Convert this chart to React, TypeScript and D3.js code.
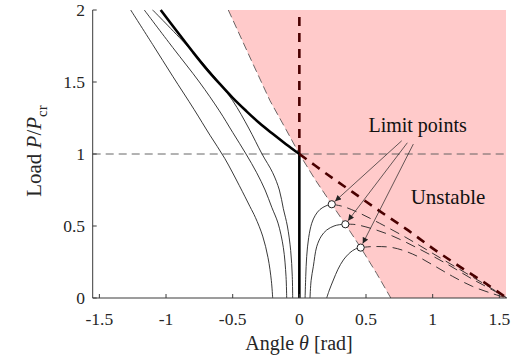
import { useMemo } from "react";
import * as d3 from "d3";

// axis ticks
const xTicks = [-1.5, -1, -0.5, 0, 0.5, 1, 1.5];
const yTicks = [0, 0.5, 1, 1.5, 2];

// perfect system: stable post-buckling branch (theta, P/Pcr)
const perfectStable: [number, number][] = [
  [0, 1], [-0.1, 1.068], [-0.2, 1.14], [-0.3, 1.215], [-0.4, 1.3], [-0.5, 1.39],
  [-0.6, 1.49], [-0.7, 1.595], [-0.8, 1.71], [-0.9, 1.83], [-1.04, 2.0],
];
// perfect system: unstable branch
const perfectUnstable: [number, number][] = [
  [0, 1], [0.2, 0.865], [0.4, 0.735], [0.6, 0.605], [0.8, 0.48], [1.0, 0.345],
  [1.2, 0.22], [1.4, 0.1], [1.556, 0],
];
// stability boundary (locus of limit points)
const boundary: [number, number][] = [
  [-0.533, 2], [-0.36, 1.65], [-0.22, 1.37], [-0.1, 1.17], [0, 1], [0.12, 0.82],
  [0.243, 0.651], [0.345, 0.512], [0.46, 0.35], [0.58, 0.17], [0.686, 0],
];

// imperfect systems, negative imperfection (stable)
const negA: [number, number][] = [
  [-0.2, 0], [-0.21, 0.12], [-0.235, 0.28], [-0.275, 0.43], [-0.33, 0.56], [-0.37, 0.634],
  [-0.45, 0.78], [-0.56, 0.97], [-0.67, 1.13], [-0.79, 1.31], [-0.95, 1.54], [-1.1, 1.76], [-1.265, 2.0],
];
const negB: [number, number][] = [
  [-0.095, 0], [-0.1, 0.15], [-0.12, 0.35], [-0.16, 0.52], [-0.207, 0.63], [-0.257, 0.75],
  [-0.32, 0.87], [-0.4, 1.0], [-0.5, 1.15], [-0.6, 1.3], [-0.75, 1.5], [-0.95, 1.74], [-1.163, 2.0],
];
const negC: [number, number][] = [
  [-0.05, 0], [-0.053, 0.15], [-0.065, 0.33], [-0.09, 0.5], [-0.12, 0.62], [-0.15, 0.75],
  [-0.2, 0.87], [-0.28, 1.0], [-0.38, 1.18], [-0.5, 1.37], [-0.65, 1.55], [-0.85, 1.76], [-1.1, 2.0],
];

// imperfect systems, positive imperfection: rising part up to limit point
const posD: [number, number][] = [
  [0.043, 0], [0.048, 0.15], [0.055, 0.287], [0.07, 0.42], [0.093, 0.519], [0.12, 0.575],
  [0.155, 0.615], [0.2, 0.64], [0.243, 0.651],
];
const posE: [number, number][] = [
  [0.08, 0], [0.088, 0.12], [0.105, 0.22], [0.13, 0.356], [0.165, 0.43], [0.205, 0.472],
  [0.26, 0.5], [0.3, 0.509], [0.345, 0.512],
];
const posF: [number, number][] = [
  [0.205, 0], [0.225, 0.055], [0.255, 0.125], [0.29, 0.2], [0.33, 0.264], [0.38, 0.315],
  [0.42, 0.34], [0.46, 0.35],
];
// descending part after limit point (unstable)
const postD: [number, number][] = [
  [0.243, 0.651], [0.33, 0.635], [0.45, 0.59], [0.6, 0.52], [0.8, 0.42], [1.0, 0.31],
  [1.2, 0.2], [1.4, 0.09], [1.556, 0],
];
const postE: [number, number][] = [
  [0.345, 0.512], [0.42, 0.51], [0.55, 0.48], [0.7, 0.43], [0.9, 0.34], [1.1, 0.24],
  [1.3, 0.13], [1.45, 0.055], [1.556, 0],
];
const postF: [number, number][] = [
  [0.46, 0.35], [0.55, 0.357], [0.7, 0.35], [0.85, 0.305], [1.0, 0.23], [1.15, 0.15],
  [1.3, 0.08], [1.45, 0.03], [1.556, 0],
];

const limitPoints: [number, number][] = [[0.243, 0.651], [0.345, 0.512], [0.46, 0.35]];
const arrowFrom: [number, number][] = [[0.768, 1.092], [0.81, 1.078], [0.855, 1.069]];

const W = 515;
const H = 358;
const font = "Liberation Serif, Times New Roman, serif";

export default function App() {
  const x = d3.scaleLinear().domain([-1.55, 1.55]).range([92.7, 506]);
  const y = d3.scaleLinear().domain([0, 2]).range([298, 10]);

  const line = useMemo(
    () =>
      d3
        .line<[number, number]>()
        .x((d) => x(d[0]))
        .y((d) => y(d[1]))
        .curve(d3.curveCatmullRom.alpha(0.5)),
    []
  );
  const lin = d3
    .line<[number, number]>()
    .x((d) => x(d[0]))
    .y((d) => y(d[1]));

  const region: [number, number][] = [...boundary, [1.55, 0], [1.55, 2]];

  const arrows = limitPoints.map((p, i) => {
    const x0 = x(arrowFrom[i][0]);
    const y0 = y(arrowFrom[i][1]);
    const x1 = x(p[0]);
    const y1 = y(p[1]);
    const len = Math.hypot(x1 - x0, y1 - y0);
    const r = 4.5;
    return { x0, y0, x1: x1 - ((x1 - x0) / len) * r, y1: y1 - ((y1 - y0) / len) * r };
  });

  const axisColor = "#3a3a3a";
  const ts = { fontFamily: font };

  return (
    <svg
      width={W}
      height={H}
      style={{ position: "absolute", left: 0, top: 0, background: "#fff", fontFamily: font }}
    >
      <defs>
        <marker id="ah" viewBox="0 0 10 10" refX="10" refY="5" markerWidth="7" markerHeight="6"
          markerUnits="userSpaceOnUse" orient="auto">
          <path d="M0,0 L10,5 L0,10 z" fill="#222" />
        </marker>
      </defs>

      {/* unstable region */}
      <path d={lin(region) + "Z"} fill="#ffcaca" stroke="none" />

      {/* reference P = Pcr */}
      <line x1={x(-1.55)} x2={x(1.55)} y1={y(1)} y2={y(1)} stroke="#555" strokeWidth={0.9}
        strokeDasharray="8,5" />

      {/* stability boundary */}
      <path d={lin(boundary) || ""} fill="none" stroke="#444" strokeWidth={0.8} strokeDasharray="8,4" />

      {/* imperfect paths */}
      {[negA, negB, negC, posD, posE, posF].map((c, i) => (
        <path key={"s" + i} d={line(c) || ""} fill="none" stroke="#222" strokeWidth={0.9} />
      ))}
      {[postD, postE, postF].map((c, i) => (
        <path key={"u" + i} d={line(c) || ""} fill="none" stroke="#222" strokeWidth={0.9}
          strokeDasharray="10,6" />
      ))}

      {/* perfect system */}
      <line x1={x(0)} x2={x(0)} y1={y(0)} y2={y(1)} stroke="#000" strokeWidth={2.6} />
      <line x1={x(0)} x2={x(0)} y1={y(1)} y2={y(2)} stroke="#4a0000" strokeWidth={2.6}
        strokeDasharray="9,7" />
      <path d={line(perfectStable) || ""} fill="none" stroke="#000" strokeWidth={2.6} />
      <path d={line(perfectUnstable) || ""} fill="none" stroke="#4a0000" strokeWidth={2.6}
        strokeDasharray="9,7" />

      {/* annotation arrows */}
      {arrows.map((a, i) => (
        <line key={"a" + i} x1={a.x0} y1={a.y0} x2={a.x1} y2={a.y1} stroke="#222" strokeWidth={0.7}
          markerEnd="url(#ah)" />
      ))}
      {limitPoints.map((p, i) => (
        <circle key={"lp" + i} cx={x(p[0])} cy={y(p[1])} r={3.6} fill="#fff" stroke="#222" strokeWidth={1} />
      ))}

      <text style={ts} x={x(0.887)} y={y(1.153)} fontSize={20} textAnchor="middle" fill="#111">Limit points</text>
      <text style={ts} x={x(1.115)} y={y(0.653)} fontSize={21} textAnchor="middle" fill="#111">Unstable</text>

      {/* axes */}
      <line x1={92.7} x2={506} y1={y(0)} y2={y(0)} stroke={axisColor} strokeWidth={1} />
      <line x1={92.7} x2={92.7} y1={y(0)} y2={y(2)} stroke={axisColor} strokeWidth={1} />
      {xTicks.map((t) => (
        <g key={"xt" + t}>
          <line x1={x(t)} x2={x(t)} y1={y(0)} y2={y(0) - 4} stroke={axisColor} />
          <text style={ts} x={x(t)} y={325} fontSize={17.5} textAnchor="middle" fill="#262626">{t}</text>
        </g>
      ))}
      {yTicks.map((t) => (
        <g key={"yt" + t}>
          <line x1={92.7} x2={96.7} y1={y(t)} y2={y(t)} stroke={axisColor} />
          <text style={ts} x={85} y={y(t)} dy="0.35em" fontSize={17.5} textAnchor="end" fill="#262626">{t}</text>
        </g>
      ))}

      <text style={ts} x={299} y={350} fontSize={20} textAnchor="middle" fill="#262626">
        Angle <tspan fontStyle="italic">θ</tspan> [rad]
      </text>
      <text style={ts} transform="translate(41,151) rotate(-90)" fontSize={21} textAnchor="middle" fill="#262626">
        Load <tspan fontStyle="italic">P</tspan>/<tspan fontStyle="italic">P</tspan>
        <tspan fontSize={15} dy={6}>cr</tspan>
      </text>
    </svg>
  );
}
